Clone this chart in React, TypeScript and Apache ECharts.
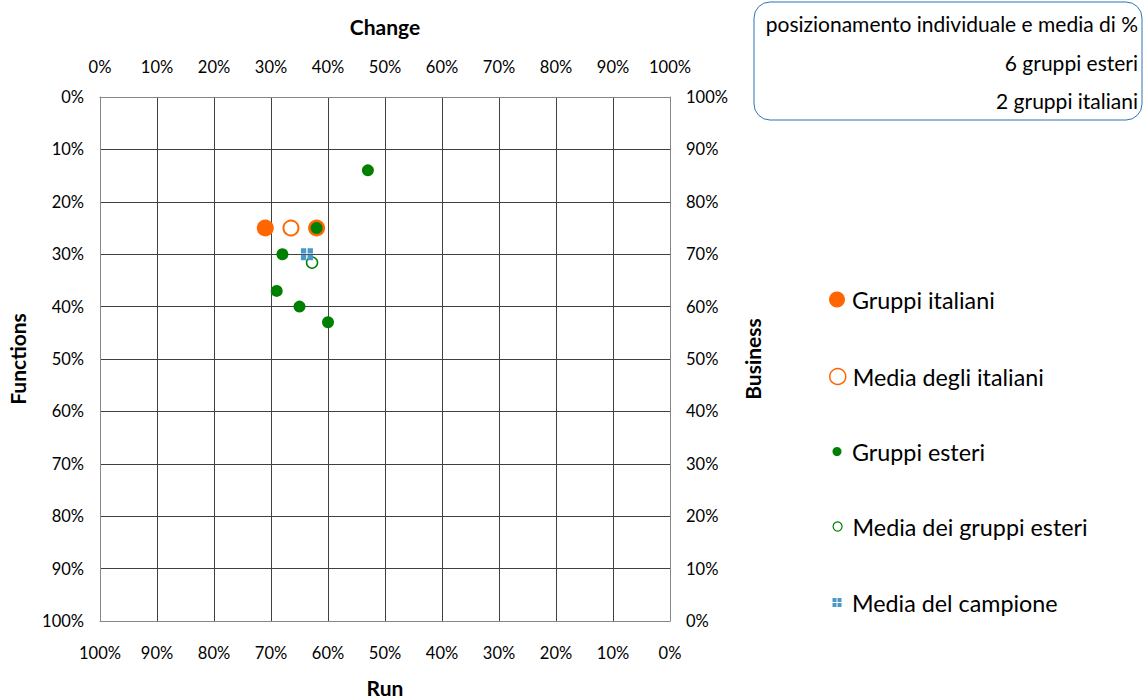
import React, { useEffect, useRef } from "react";
import * as echarts from "echarts";

const changeTicks = [0, 10, 20, 30, 40, 50, 60, 70, 80, 90, 100];

const italianiChange = [29, 38];
const italianiFunctions = [25, 25];

const mediaItalianiChange = [33.5];
const mediaItalianiFunctions = [25];

const esteriChange = [47, 38, 32, 31, 35, 40];
const esteriFunctions = [14, 25, 30, 37, 40, 43];

const mediaEsteriChange = [37.2];
const mediaEsteriFunctions = [31.6];

const mediaCampioneChange = [36.3];
const mediaCampioneFunctions = [30];

const seriesNames = [
  "Gruppi italiani",
  "Media degli italiani",
  "Gruppi esteri",
  "Media dei gruppi esteri",
  "Media del campione",
];

const boxLines = [
  "posizionamento individuale e media di %",
  "6 gruppi esteri",
  "2 gruppi italiani",
];

const ORANGE = "#FF6600";
const GREEN = "#008000";
const BLUE = "#4A98C9";
const FONT = "Lato";
const QUAD =
  "path://M0,0H4V4H0Z M5,0H9V4H5Z M0,5H4V9H0Z M5,5H9V9H5Z";

const zip = (xs: number[], ys: number[]) => xs.map((x, i) => [x, ys[i]]);

export default function App() {
  const ref = useRef<HTMLDivElement>(null);
  useEffect(() => {
    if (!ref.current) return;
    const chart = echarts.init(ref.current, undefined, { renderer: "svg" });
    const pct = (v: number) => `${v}%`;
    const labelStyle = { color: "#000", fontFamily: FONT, fontSize: 16.5 };
    const nameStyle = { color: "#000", fontFamily: FONT, fontSize: 21, fontWeight: "bold" as const };
    const axisLine = { show: true, lineStyle: { color: "#868686", width: 1 } };
    const split = { show: true, lineStyle: { color: "#404040", width: 1 } };

    const legendDefs = [
      { name: seriesNames[0], top: 288, size: 16, icon: "circle", itemStyle: { color: ORANGE } },
      { name: seriesNames[1], top: 365, size: 16, icon: "circle", itemStyle: { color: "#fff", borderColor: ORANGE, borderWidth: 1.5 } },
      { name: seriesNames[2], top: 440, size: 9, icon: "circle", itemStyle: { color: GREEN } },
      { name: seriesNames[3], top: 515, size: 9, icon: "circle", itemStyle: { color: "#fff", borderColor: GREEN, borderWidth: 1.2 } },
      { name: seriesNames[4], top: 591, size: 9, icon: QUAD, itemStyle: { color: BLUE } },
    ];

    chart.setOption({
      animation: false,
      backgroundColor: "#fff",
      grid: { left: 100, width: 570, top: 97, height: 524, outerBoundsMode: "none", containLabel: false },
      xAxis: [
        {
          type: "value",
          position: "top",
          min: 0,
          max: 100,
          interval: 10,
          name: "Change",
          nameLocation: "middle",
          nameGap: 60,
          nameTextStyle: nameStyle,
          axisLabel: { ...labelStyle, formatter: pct, margin: 22 },
          axisLine,
          axisTick: { show: false },
          splitLine: split,
        },
        {
          type: "value",
          position: "bottom",
          inverse: true,
          min: 0,
          max: 100,
          interval: 10,
          name: "Run",
          nameLocation: "middle",
          nameGap: 56,
          nameTextStyle: nameStyle,
          axisLabel: { ...labelStyle, formatter: pct, margin: 23 },
          axisLine,
          axisTick: { show: false },
          splitLine: { show: false },
        },
      ],
      yAxis: [
        {
          type: "value",
          position: "left",
          inverse: true,
          min: 0,
          max: 100,
          interval: 10,
          name: "Functions",
          nameLocation: "middle",
          nameGap: 72,
          nameRotate: 90,
          nameTextStyle: nameStyle,
          axisLabel: { ...labelStyle, formatter: pct, margin: 16 },
          axisLine,
          axisTick: { show: false },
          splitLine: split,
        },
        {
          type: "value",
          position: "right",
          min: 0,
          max: 100,
          interval: 10,
          name: "Business",
          nameLocation: "middle",
          nameGap: 72,
          nameRotate: 90,
          nameTextStyle: nameStyle,
          axisLabel: { ...labelStyle, formatter: pct, margin: 16 },
          axisLine,
          axisTick: { show: false },
          splitLine: { show: false },
        },
      ],
      legend: legendDefs.map((d) => ({
        data: [{ name: d.name, icon: d.icon, itemStyle: d.itemStyle }],
        left: 837 - d.size / 2,
        top: d.top,
        itemWidth: d.size,
        itemHeight: d.size,
        itemGap: 0,
        padding: 0,
        selectedMode: false,
        textStyle: { color: "#000", fontFamily: FONT, fontSize: 23.3, padding: [0, 0, 0, 15 - d.size / 2 - 5] },
      })),
      graphic: [
        {
          type: "rect",
          shape: { x: 754, y: 2, width: 388, height: 118, r: 16 },
          style: { fill: "#fff", stroke: "#2E75B6", lineWidth: 1 },
        },
        ...boxLines.map((t, i) => ({
          type: "text",
          x: 1138,
          y: [23, 62, 100][i],
          style: {
            text: t,
            fill: "#000",
            font: `21px ${FONT}`,
            textAlign: "right",
            textVerticalAlign: "middle",
          },
        })),
      ],
      series: [
        {
          name: seriesNames[0],
          type: "scatter",
          xAxisIndex: 0,
          yAxisIndex: 0,
          symbol: "circle",
          symbolSize: 17,
          itemStyle: { color: ORANGE, opacity: 1 },
          data: zip(italianiChange, italianiFunctions),
        },
        {
          name: seriesNames[1],
          type: "scatter",
          xAxisIndex: 0,
          yAxisIndex: 0,
          symbol: "circle",
          symbolSize: 15,
          itemStyle: { color: "#fff", borderColor: ORANGE, borderWidth: 2, opacity: 1 },
          data: zip(mediaItalianiChange, mediaItalianiFunctions),
        },
        {
          name: seriesNames[2],
          type: "scatter",
          xAxisIndex: 0,
          yAxisIndex: 0,
          symbol: "circle",
          symbolSize: 12,
          itemStyle: { color: GREEN, opacity: 1 },
          data: zip(esteriChange, esteriFunctions),
        },
        {
          name: seriesNames[3],
          type: "scatter",
          xAxisIndex: 0,
          yAxisIndex: 0,
          symbol: "circle",
          symbolSize: 11,
          itemStyle: { color: "#fff", borderColor: GREEN, borderWidth: 1.5, opacity: 1 },
          data: zip(mediaEsteriChange, mediaEsteriFunctions),
        },
        {
          name: seriesNames[4],
          type: "scatter",
          xAxisIndex: 0,
          yAxisIndex: 0,
          symbol: QUAD,
          symbolSize: 12,
          itemStyle: { color: BLUE, opacity: 1 },
          data: zip(mediaCampioneChange, mediaCampioneFunctions),
        },
      ],
    });
    return () => chart.dispose();
  }, []);

  return (
    <div
      ref={ref}
      style={{ position: "absolute", left: 0, top: 0, width: 1143, height: 699, background: "#fff" }}
    />
  );
}
